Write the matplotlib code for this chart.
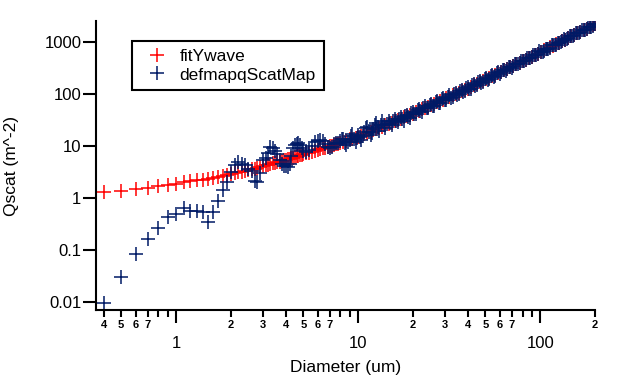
import matplotlib
matplotlib.use("Agg")
import matplotlib.pyplot as plt
from matplotlib.ticker import NullFormatter

plt.rcParams['font.family'] = ['Liberation Sans', 'DejaVu Sans']

# fitYwave: diameter (um) and fitted Qscat
fit_d = [0.4, 0.5, 0.6, 0.7, 0.8, 0.9, 1.0, 1.1, 1.2, 1.3, 1.4, 1.5, 1.6, 1.7, 1.8, 1.9,
         2.0, 2.1, 2.2, 2.3, 2.4, 2.5, 2.6, 2.7, 2.8, 2.9, 3.0,
         3.1, 3.2, 3.3, 3.4, 3.5, 3.6, 3.7, 3.8, 3.9, 4.0, 4.1, 4.2, 4.3, 4.4, 4.5,
         4.6, 4.7, 4.8, 4.9, 5.0,
         5.2, 5.4, 5.6, 5.8, 6.0, 6.2, 6.4, 6.6, 6.8, 7.0, 7.2, 7.4, 7.6, 7.8, 8.0,
         8.3, 8.6, 9.0, 9.3, 9.7, 10, 10.4, 10.8, 11.2, 11.7, 12.1, 12.6, 13.1, 13.6,
         14.1, 14.7, 15.3, 15.9, 16.5, 17.1, 17.8, 18.5, 19.2, 20, 20.8, 21.6, 22.4,
         23.3, 24.2, 25.2, 26.2, 27.2, 28.3, 29.4, 30.5, 31.7, 33, 34.3, 35.6, 37,
         38.5, 40, 41.6, 43.2, 44.9, 46.7, 48.5, 50.4, 52.4, 54.5, 56.6, 58.8, 61.1,
         63.5, 66, 68.6, 71.3, 74.1, 77, 80, 83.2, 86.5, 89.9, 93.4, 97.1, 101, 105,
         109, 113, 118, 122, 127, 132, 137, 143, 148, 154, 160, 166, 173, 180, 187,
         194, 200]

fit_q = [1.29, 1.36, 1.46, 1.57, 1.68, 1.79, 1.90, 2.00, 2.09, 2.18, 2.27, 2.36, 2.46,
         2.56, 2.66, 2.77, 2.88, 2.99, 3.10, 3.22, 3.34, 3.46, 3.58, 3.70, 3.83, 3.96, 4.10,
         4.23, 4.36, 4.50, 4.63, 4.77, 4.90, 5.03, 5.17, 5.31, 5.45, 5.59, 5.73, 5.88,
         6.02, 6.16, 6.31, 6.45, 6.60, 6.75, 6.90,
         7.20, 7.50, 7.80, 8.10, 8.40, 8.70, 9.00, 9.30, 9.60, 9.90, 10.2, 10.5, 10.9,
         11.2, 11.6,
         12.1, 12.7, 13.4, 13.9, 14.5, 15.0, 15.9, 16.8, 17.8, 19.0, 20.0, 21.2, 22.5,
         23.8, 25.1, 26.7, 28.4, 30.1, 31.8, 33.5, 35.6, 37.7, 39.9, 42.4, 45.1, 48.0,
         50.8, 54.1, 57.5, 61.4, 65.3, 69.3, 73.9, 78.5, 83.3, 88.6, 94.5, 100.5, 106.7,
         113.5, 120.9, 128.5, 137.6, 147.0, 157.3, 168.5, 180.0, 192.5, 206.1, 220.8,
         235.9, 252.2, 269.7, 288.5, 308.7, 330.3, 353.3, 378.0, 404.2, 432.2, 463.0,
         495.6, 530.1, 566.8, 606.7, 649.9, 697.3, 745.9, 795.9, 860.3, 913.7, 982.1,
         1052.7, 1125.5, 1216, 1293.6, 1389.5, 1488.4, 1590.2, 1713, 1839.9, 1970.5,
         2105.6, 2224]

# defmapqScatMap: diameter (um) and measured Qscat
map_d = [0.4, 0.5, 0.6, 0.7, 0.8, 0.9, 1.0, 1.1, 1.2, 1.3, 1.4, 1.5, 1.6, 1.7, 1.8, 1.9,
         2.0, 2.1, 2.2, 2.3, 2.4, 2.5, 2.6, 2.7, 2.8, 2.9, 3.0,
         3.1, 3.2, 3.3, 3.4, 3.5, 3.6, 3.7, 3.8, 3.9, 4.0, 4.1, 4.2, 4.3, 4.4, 4.5,
         4.6, 4.7, 4.8, 4.9, 5.0,
         5.2, 5.4, 5.6, 5.8, 6.0, 6.2, 6.4, 6.6, 6.8, 7.0, 7.2, 7.4, 7.6, 7.8,
         8.0, 8.15, 8.3, 8.45, 8.6, 8.8, 9.0, 9.15, 9.3, 9.5, 9.7, 9.85, 10, 10.2,
         10.4, 10.6, 10.8, 11.0, 11.2, 11.45, 11.7, 11.9, 12.1, 12.35, 12.6, 12.85,
         13.1, 13.35, 13.6, 13.85, 14.1, 14.4, 14.7, 15.0, 15.3, 15.6, 15.9, 16.2,
         16.5, 16.8, 17.1, 17.45, 17.8, 18.15, 18.5, 18.85, 19.2, 19.6, 20, 20.4,
         20.8, 21.2, 21.6, 22.0, 22.4, 22.85, 23.3, 23.75, 24.2, 24.7, 25.2, 25.7,
         26.2, 26.7, 27.2, 27.75, 28.3, 28.85, 29.4, 29.95, 30.5, 31.1, 31.7, 32.35,
         33, 33.65, 34.3, 34.95, 35.6, 36.3, 37, 37.75, 38.5, 39.25, 40, 40.8,
         41.6, 42.4, 43.2, 44.05, 44.9, 45.8, 46.7, 47.6, 48.5, 49.45, 50.4, 51.4,
         52.4, 53.45, 54.5, 55.55, 56.6, 57.7, 58.8, 59.95, 61.1, 62.3, 63.5, 64.75,
         66, 67.3, 68.6, 69.95, 71.3, 72.7, 74.1, 75.55, 77, 78.5, 80, 81.6,
         83.2, 84.85, 86.5, 88.2, 89.9, 91.65, 93.4, 95.25, 97.1, 99, 101, 103,
         105, 107, 109, 111, 113, 115.5, 118, 120, 122, 124.5, 127, 129.5,
         132, 134.5, 137, 140, 143, 145.5, 148, 151, 154, 157, 160, 163,
         166, 169.5, 173, 176.5, 180, 183.5, 187, 190.5, 194, 197, 200]

map_q = [0.0095, 0.030, 0.083, 0.16, 0.27, 0.44, 0.50, 0.64, 0.56, 0.56, 0.53, 0.35,
         0.54, 0.88, 1.43, 2.06, 3.1, 4.4, 4.9, 4.6, 4.3, 3.6, 3.3, 2.1, 2.0, 3.0, 5.5,
         6.0, 7.5, 9.8, 9.0, 8.0, 7.0, 5.4, 4.6, 4.2, 4.1, 4.0, 4.5, 6.5, 9.0, 10.5,
         11.0, 11.3, 10.5, 9.0, 8.0,
         7.6, 8.4, 10.0, 11.8, 12.5, 13.0, 12.5, 11.0, 9.5, 9.0, 9.6, 10.8, 11.3, 11.5,
         12.5, 13.5, 14.0, 11.5, 10.5, 12.0, 13.0, 15.5, 17.0, 14.0, 12.0, 14.5, 16.5, 15.0,
         13.0, 15.5, 19.0, 22.0, 23.5, 19.0, 16.0, 18.0, 21.0, 25.0, 28.0, 23.0,
         19.5, 25.0, 30.0, 26.0, 22.0, 27.0, 31.0, 27.5, 25.0, 30.5, 33.0, 30.0,
         29.0, 34.0, 37.0, 33.0, 31.0, 38.0, 40.0, 36.0, 35.5, 43.0, 46.0, 42.0,
         41.0, 49.0, 52.0, 47.0, 46.0, 55.0, 58.0, 53.0, 53.0, 62.0, 66.0, 60.0,
         60.0, 71.0, 74.0, 67.0, 68.0, 80.0, 84.0, 76.0, 78.0, 90.0, 95.0, 86.0,
         88.0, 101, 107, 98, 100, 116, 121, 110, 113, 131, 138, 125,
         128, 150, 158, 145, 150, 172, 178, 165, 170, 196, 205, 190,
         198, 225, 232, 218, 225, 256, 262, 250, 262, 295, 297, 285,
         300, 335, 340, 325, 345, 385, 385, 375, 395, 440, 440, 430,
         455, 505, 500, 495, 525, 580, 575, 570, 600, 665, 655, 655,
         690, 750, 755, 750, 790, 870, 870, 870, 905, 990, 990, 995,
         1045, 1140, 1130, 1140, 1210, 1320, 1300, 1310, 1385, 1510, 1495, 1500,
         1585, 1730, 1720, 1720, 1835, 2000, 1980, 1990, 2100, 2280, 2230]

fig = plt.figure(figsize=(6.4, 3.75), dpi=100)
ax = fig.add_axes([0.15, 0.1733, 0.7797, 0.7707])

ax.plot(fit_d, fit_q, ls='none', marker='+', ms=9.5, mew=1.1, color='#ff0000',
        label='fitYwave')
ax.plot(map_d, map_q, ls='none', marker='+', ms=9.5, mew=1.1, color='#001a66',
        label='defmapqScatMap')

ax.set_xscale('log')
ax.set_yscale('log')
ax.set_xlim(0.3634, 200)
ax.set_ylim(0.00695, 2570)

for s in ['top', 'right']:
    ax.spines[s].set_visible(False)
for s in ['left', 'bottom']:
    ax.spines[s].set_linewidth(1.5)

ax.set_yticks([0.01, 0.1, 1, 10, 100, 1000])
ax.set_yticklabels(['0.01', '0.1', '1', '10', '100', '1000'])
ax.yaxis.set_minor_formatter(NullFormatter())
ax.tick_params(axis='y', which='minor', length=0)
ax.tick_params(axis='y', which='major', length=9.5, width=1.5, pad=1, labelsize=12)

ax.set_xticks([1, 10, 100])
ax.set_xticklabels(['1', '10', '100'])
minor_pos = [0.4, 0.5, 0.6, 0.7, 0.8, 0.9, 2, 3, 4, 5, 6, 7, 8, 9,
             20, 30, 40, 50, 60, 70, 80, 90, 200]
minor_lab = ['4', '5', '6', '7', '', '', '2', '3', '4', '5', '6', '7', '', '',
             '2', '3', '4', '5', '6', '7', '', '', '2']
ax.set_xticks(minor_pos, minor=True)
ax.set_xticklabels(minor_lab, minor=True, fontsize=8, fontweight='bold')
ax.tick_params(axis='x', which='major', length=9.5, width=1.5, pad=9, labelsize=12)
ax.tick_params(axis='x', which='minor', length=5, width=1.5, pad=2)

ax.set_xlabel('Diameter (um)', fontsize=12.5, labelpad=7)
ax.set_ylabel('Qscat (m^-2)', fontsize=12.5, labelpad=18)

leg = ax.legend(loc='upper left', bbox_to_anchor=(0.072, 0.931), borderaxespad=0,
                fancybox=False, edgecolor='black', fontsize=12.5, handlelength=1.95,
                handletextpad=0.35, borderpad=0.45, labelspacing=0.2, framealpha=1)
leg.get_frame().set_linewidth(1.5)

fig.savefig('out.png', dpi=100)
